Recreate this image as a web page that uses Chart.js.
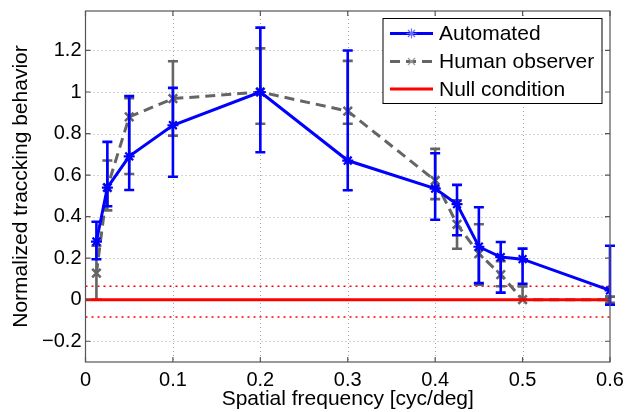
<!DOCTYPE html>
<html><head><meta charset="utf-8">
<script src="https://cdn.jsdelivr.net/npm/chart.js@4.4.1/dist/chart.umd.min.js"></script>
<style>html,body{margin:0;padding:0;background:#fff}canvas{display:block}</style>
</head><body>
<canvas id="c" width="625" height="412"></canvas>
<script>
// ---- data ----
const freq       = [0.0125, 0.025, 0.05, 0.1, 0.2, 0.3, 0.4, 0.425, 0.45, 0.475, 0.5, 0.6];
const autoVals   = [0.28, 0.54, 0.69, 0.84, 1.0, 0.67, 0.535, 0.46, 0.255, 0.205, 0.195, 0.045];
const autoHi     = [0.375, 0.76, 0.98, 1.02, 1.31, 1.2, 0.705, 0.553, 0.445, 0.278, 0.246, 0.26];
const autoLo     = [0.195, 0.45, 0.528, 0.592, 0.71, 0.527, 0.385, 0.31, 0.08, 0.034, 0.077, -0.024];
const humanVals  = [0.128, 0.54, 0.88, 0.968, 1.0, 0.908, 0.574, 0.363, 0.222, 0.121, 0.0, 0.0];
const humanHi    = [0.26, 0.67, 0.97, 1.148, 1.21, 1.15, 0.726, 0.479, 0.363, 0.185, 0.064, 0.015];
const humanLo    = [0.0, 0.43, 0.605, 0.79, 0.847, 0.847, 0.484, 0.245, 0.072, 0.065, 0.0, -0.015];
const nullX      = [0, 0.6];
const nullVals   = [0, 0];
const nullUpper  = [0.065, 0.065];
const nullLower  = [-0.083, -0.083];
const xTicks     = [0, 0.1, 0.2, 0.3, 0.4, 0.5, 0.6];
const yTicks     = [-0.2, 0, 0.2, 0.4, 0.6, 0.8, 1, 1.2];
const seriesNames = ['Automated', 'Human observer', 'Null condition'];
const xTitle = 'Spatial frequency [cyc/deg]';
const yTitle = 'Normalized traccking behavior';

const FONT = "'Liberation Sans', Arial, Helvetica, sans-serif";
const BLUE = '#0000ff', GRAY = '#656565', RED = '#ff0000';

const pts = (xs, ys) => xs.map((x, i) => ({x: x, y: ys[i]}));
const fmt = v => { const s = String(+v.toFixed(2)); return v < 0 ? '\u2212' + s.slice(1) : s; };

const errorBarPlugin = {
  id: 'errbars',
  afterDatasetDraw(chart, args) {
    const ds = chart.data.datasets[args.index];
    if (!ds.errLo) return;
    const ctx = chart.ctx, xs = chart.scales.x, ys = chart.scales.y;
    const cap = 5;
    ctx.save();
    ctx.strokeStyle = ds.borderColor; ctx.lineWidth = 2.6; ctx.setLineDash([]);
    ds.data.forEach((p, i) => {
      const px = xs.getPixelForValue(p.x);
      const t = ys.getPixelForValue(ds.errHi[i]);
      const b = ys.getPixelForValue(ds.errLo[i]);
      ctx.beginPath();
      ctx.moveTo(px, t); ctx.lineTo(px, b);
      ctx.moveTo(px - cap, t); ctx.lineTo(px + cap, t);
      ctx.moveTo(px - cap, b); ctx.lineTo(px + cap, b);
      ctx.stroke();
    });
    ctx.restore();
  }
};

const gridFramePlugin = {
  id: 'gridframe',
  beforeDatasetsDraw(chart) {
    const ctx = chart.ctx, a = chart.chartArea, xs = chart.scales.x, ys = chart.scales.y;
    ctx.save();
    ctx.strokeStyle = '#a8a8a8'; ctx.lineWidth = 1; ctx.setLineDash([1, 3]);
    xTicks.forEach(v => {
      const p = Math.round(xs.getPixelForValue(v)) + 0.5;
      if (p <= a.left + 1 || p >= a.right - 1) return;
      ctx.beginPath(); ctx.moveTo(p, a.top); ctx.lineTo(p, a.bottom); ctx.stroke();
    });
    yTicks.forEach(v => {
      const p = Math.round(ys.getPixelForValue(v)) + 0.5;
      ctx.beginPath(); ctx.moveTo(a.left, p); ctx.lineTo(a.right, p); ctx.stroke();
    });
    ctx.restore();
  },
  afterDatasetsDraw(chart) {
    const ctx = chart.ctx, a = chart.chartArea, xs = chart.scales.x, ys = chart.scales.y;
    ctx.save();
    ctx.strokeStyle = '#555'; ctx.lineWidth = 1.2; ctx.setLineDash([]);
    ctx.strokeRect(a.left, a.top, a.right - a.left, a.bottom - a.top);
    const tl = 5;
    ctx.beginPath();
    xTicks.forEach(v => {
      const p = xs.getPixelForValue(v);
      ctx.moveTo(p, a.bottom); ctx.lineTo(p, a.bottom - tl);
      ctx.moveTo(p, a.top); ctx.lineTo(p, a.top + tl);
    });
    yTicks.forEach(v => {
      const p = ys.getPixelForValue(v);
      ctx.moveTo(a.left, p); ctx.lineTo(a.left + tl, p);
      ctx.moveTo(a.right, p); ctx.lineTo(a.right - tl, p);
    });
    ctx.stroke();
    ctx.restore();
  }
};

const legendPlugin = {
  id: 'boxlegend',
  afterDraw(chart) {
    const ctx = chart.ctx;
    const bx = 383, by = 18.5, bw = 219, bh = 85;
    ctx.save();
    ctx.fillStyle = '#fff'; ctx.fillRect(bx, by, bw, bh);
    ctx.strokeStyle = '#000'; ctx.lineWidth = 1; ctx.setLineDash([]);
    ctx.strokeRect(bx, by, bw, bh);
    const rows = [33.5, 61.5, 89];
    const x0 = 390, x1 = 433, mx = (x0 + x1) / 2;
    const dss = [chart.data.datasets[0], chart.data.datasets[1], chart.data.datasets[2]];
    dss.forEach((ds, i) => {
      const y = rows[i];
      ctx.strokeStyle = ds.borderColor; ctx.lineWidth = 3;
      ctx.setLineDash(ds.borderDash || []);
      ctx.beginPath(); ctx.moveTo(x0, y); ctx.lineTo(x1, y); ctx.stroke();
      ctx.setLineDash([]);
      if (ds.pointStyle === 'star' || ds.pointStyle === 'crossRot') {
        ctx.lineWidth = 1.2;
        ctx.strokeStyle = ds.pointStyle === 'star' ? '#6a6aff' : '#9a9a9a';
        const r = 5;
        ctx.beginPath();
        const angs = ds.pointStyle === 'star' ? [0, 45, 90, 135] : [45, 135];
        angs.forEach(d => {
          const t = d * Math.PI / 180;
          ctx.moveTo(mx - r * Math.cos(t), y - r * Math.sin(t));
          ctx.lineTo(mx + r * Math.cos(t), y + r * Math.sin(t));
        });
        ctx.stroke();
      }
      ctx.fillStyle = '#000';
      ctx.font = '21px ' + FONT;
      ctx.textBaseline = 'middle'; ctx.textAlign = 'left';
      ctx.fillText(ds.label, 439, y + 1);
    });
    ctx.restore();
  }
};

new Chart(document.getElementById('c'), {
  type: 'line',
  data: {
    datasets: [
      { label: seriesNames[0], data: pts(freq, autoVals), errHi: autoHi, errLo: autoLo,
        borderColor: BLUE, backgroundColor: BLUE, borderWidth: 3, pointStyle: 'star',
        pointRadius: 5.5, pointBorderWidth: 2.2, pointBorderColor: BLUE, order: 0 },
      { label: seriesNames[1], data: pts(freq, humanVals), errHi: humanHi, errLo: humanLo,
        borderColor: GRAY, backgroundColor: GRAY, borderWidth: 3, borderDash: [10, 6], pointStyle: 'crossRot',
        pointRadius: 6, pointBorderWidth: 2.6, pointBorderColor: GRAY, order: 2 },
      { label: seriesNames[2], data: pts(nullX, nullVals), borderColor: RED, backgroundColor: RED,
        borderWidth: 3, pointRadius: 0, order: 1 },
      { label: 'upper', data: pts(nullX, nullUpper), borderColor: RED, borderWidth: 1.5,
        borderDash: [2, 4], pointRadius: 0, order: 3 },
      { label: 'lower', data: pts(nullX, nullLower), borderColor: RED, borderWidth: 1.5,
        borderDash: [2, 4], pointRadius: 0, order: 3 }
    ]
  },
  options: {
    responsive: false, animation: false, devicePixelRatio: 1,
    layout: { padding: { left: 0, right: 15, top: 11, bottom: 0 } },
    elements: { line: { tension: 0, fill: false } },
    plugins: { legend: { display: false }, tooltip: { enabled: false } },
    scales: {
      x: {
        type: 'linear', min: 0, max: 0.6,
        grid: { display: false, drawTicks: false }, border: { display: false },
        afterBuildTicks: s => { s.ticks = xTicks.map(v => ({ value: v })); },
        afterFit: s => { s.height = 50; s.paddingLeft = 0; s.paddingRight = 0; },
        ticks: { color: '#000', padding: 6, maxRotation: 0, autoSkip: false,
                 font: { family: FONT, size: 20 }, callback: v => fmt(v) },
        title: { display: true, text: xTitle, color: '#000', padding: { top: 0, bottom: 0 },
                 font: { family: FONT, size: 21, lineHeight: 1.2 } }
      },
      y: {
        type: 'linear', min: -0.3, max: 1.39,
        grid: { display: false, drawTicks: false }, border: { display: false },
        afterBuildTicks: s => { s.ticks = yTicks.map(v => ({ value: v })); },
        afterFit: s => { s.width = 85.5; s.paddingTop = 0; s.paddingBottom = 0; },
        ticks: { color: '#000', padding: 4, autoSkip: false,
                 font: { family: FONT, size: 20 }, callback: v => fmt(v) },
        title: { display: true, text: yTitle, color: '#000', padding: { top: 9, bottom: 0 },
                 font: { family: FONT, size: 21, lineHeight: 1.2 } }
      }
    }
  },
  plugins: [gridFramePlugin, errorBarPlugin, legendPlugin]
});
</script>
</body></html>
